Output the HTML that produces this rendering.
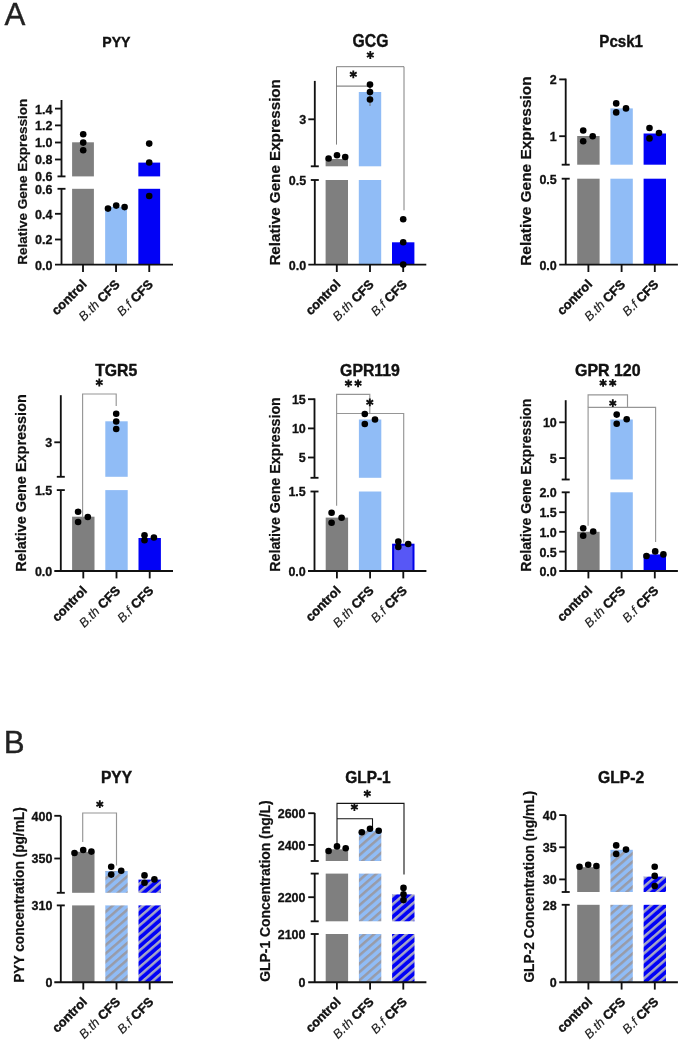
<!DOCTYPE html>
<html><head><meta charset="utf-8"><title>Figure</title>
<style>
html,body{margin:0;padding:0;background:#fff;}
body{width:685px;height:1041px;overflow:hidden;font-family:"Liberation Sans",sans-serif;}
svg{display:block;font-family:"Liberation Sans",sans-serif;will-change:transform;}
.ax{stroke:#111;stroke-width:1.85;stroke-linecap:butt;}
.tk{stroke:#111;stroke-width:1.85;}
.tl{font-size:12.5px;font-weight:bold;fill:#111;stroke:#111;stroke-width:0.3;}
.tt{font-size:15.5px;font-weight:bold;fill:#111;stroke:#111;stroke-width:0.4;}
.yl{font-weight:bold;fill:#111;stroke:#111;stroke-width:0.22;}
.xl{font-size:12.8px;font-weight:bold;fill:#111;stroke:#111;stroke-width:0.4;}
.xl .it{font-weight:normal;font-style:italic;fill:#1a1a1a;stroke:#1a1a1a;stroke-width:0.15;}
.star{font-size:18px;font-weight:bold;fill:#111;}
.big{font-size:31.3px;fill:#222;stroke:#222;stroke-width:0.35;}
</style></head><body>
<svg width="685" height="1041" viewBox="0 0 685 1041">
<defs>
<pattern id="h0" width="6.3" height="6.3" patternUnits="userSpaceOnUse" patternTransform="translate(105.3 918.74) rotate(-41)"><rect width="6.3" height="6.3" fill="#90bcf6"/><rect width="6.3" height="2.5" fill="#989ba8"/></pattern>
<pattern id="h1" width="6.3" height="6.3" patternUnits="userSpaceOnUse" patternTransform="translate(138.5 916.34) rotate(-41)"><rect width="6.3" height="6.3" fill="#0202f6"/><rect width="6.3" height="2.5" fill="#a6a6c6"/></pattern>
<pattern id="h2" width="6.3" height="6.3" patternUnits="userSpaceOnUse" patternTransform="translate(358.9 945.74) rotate(-41)"><rect width="6.3" height="6.3" fill="#90bcf6"/><rect width="6.3" height="2.5" fill="#989ba8"/></pattern>
<pattern id="h3" width="6.3" height="6.3" patternUnits="userSpaceOnUse" patternTransform="translate(392.1 944.84) rotate(-41)"><rect width="6.3" height="6.3" fill="#0202f6"/><rect width="6.3" height="2.5" fill="#a6a6c6"/></pattern>
<pattern id="h4" width="6.3" height="6.3" patternUnits="userSpaceOnUse" patternTransform="translate(610.4 937.74) rotate(-41)"><rect width="6.3" height="6.3" fill="#90bcf6"/><rect width="6.3" height="2.5" fill="#989ba8"/></pattern>
<pattern id="h5" width="6.3" height="6.3" patternUnits="userSpaceOnUse" patternTransform="translate(643.6 935.34) rotate(-41)"><rect width="6.3" height="6.3" fill="#0202f6"/><rect width="6.3" height="2.5" fill="#a6a6c6"/></pattern>
</defs>
<rect width="685" height="1041" fill="#fff"/>
<text x="4.6" y="25.3" class="big">A</text>
<text x="3.8" y="753.3" class="big">B</text>
<g>
<rect x="72.1" y="142.3" width="21.8" height="122.3" fill="#7f7f7f"/>
<rect x="105.15" y="206.8" width="21.8" height="57.8" fill="#90bcf6"/>
<rect x="138.35" y="162.6" width="21.8" height="102" fill="#0202f6"/>
<rect x="63.5" y="176.4" width="111.5" height="12.4" fill="#fff"/>
<line x1="61.5" y1="100" x2="61.5" y2="176.4" class="ax"/>
<line x1="61.5" y1="188.8" x2="61.5" y2="264.6" class="ax"/>
<line x1="57.5" y1="176.4" x2="65.5" y2="176.4" class="tk"/>
<line x1="57.5" y1="188.8" x2="65.5" y2="188.8" class="tk"/>
<line x1="55" y1="264.6" x2="173" y2="264.6" class="ax"/>
<line x1="83" y1="264.6" x2="83" y2="272" class="tk"/>
<line x1="116.05" y1="264.6" x2="116.05" y2="272" class="tk"/>
<line x1="149.25" y1="264.6" x2="149.25" y2="272" class="tk"/>
<line x1="55" y1="108.6" x2="61.5" y2="108.6" class="tk"/>
<text x="52.5" y="113.5" class="tl" text-anchor="end">1.4</text>
<line x1="55" y1="125.4" x2="61.5" y2="125.4" class="tk"/>
<text x="52.5" y="130.3" class="tl" text-anchor="end">1.2</text>
<line x1="55" y1="142.5" x2="61.5" y2="142.5" class="tk"/>
<text x="52.5" y="147.4" class="tl" text-anchor="end">1.0</text>
<line x1="55" y1="159.5" x2="61.5" y2="159.5" class="tk"/>
<text x="52.5" y="164.4" class="tl" text-anchor="end">0.8</text>
<text x="52.5" y="181.3" class="tl" text-anchor="end">0.6</text>
<text x="52.5" y="193.7" class="tl" text-anchor="end">0.6</text>
<line x1="55" y1="213.8" x2="61.5" y2="213.8" class="tk"/>
<text x="52.5" y="218.7" class="tl" text-anchor="end">0.4</text>
<line x1="55" y1="239.5" x2="61.5" y2="239.5" class="tk"/>
<text x="52.5" y="244.4" class="tl" text-anchor="end">0.2</text>
<text x="52.5" y="269.5" class="tl" text-anchor="end">0.0</text>
<circle cx="83.2" cy="134.2" r="3.3" fill="#000"/>
<circle cx="83.2" cy="142.6" r="3.3" fill="#000"/>
<circle cx="83.2" cy="150.3" r="3.3" fill="#000"/>
<circle cx="108" cy="208.6" r="3.3" fill="#000"/>
<circle cx="116.2" cy="205.6" r="3.3" fill="#000"/>
<circle cx="124.6" cy="207.1" r="3.3" fill="#000"/>
<circle cx="149.2" cy="143.6" r="3.3" fill="#000"/>
<circle cx="149.2" cy="162.5" r="3.3" fill="#000"/>
<circle cx="149.2" cy="196" r="3.3" fill="#000"/>
<text transform="translate(102.3 46.9) scale(1.0071 1)" class="tt" style="font-size:14px">PYY</text>
<text transform="translate(26.7 264.8) rotate(-90)" class="yl" style="font-size:13.5px" textLength="166" lengthAdjust="spacingAndGlyphs">Relative Gene Expression</text>
<text transform="translate(87.5 285.1) rotate(-45)" class="xl" text-anchor="end"><tspan>control</tspan></text>
<text transform="translate(120.55 285.1) rotate(-45)" class="xl" text-anchor="end"><tspan class="it">B.th</tspan><tspan> CFS</tspan></text>
<text transform="translate(153.75 285.1) rotate(-45)" class="xl" text-anchor="end"><tspan class="it">B.f</tspan><tspan> CFS</tspan></text>
</g>
<g>
<rect x="325.6" y="159" width="22.4" height="105.6" fill="#7f7f7f"/>
<rect x="358.8" y="92" width="22.4" height="172.6" fill="#90bcf6"/>
<rect x="392" y="242.3" width="22.4" height="22.3" fill="#0202f6"/>
<rect x="316.8" y="166.3" width="111.5" height="13.7" fill="#fff"/>
<path d="M336.5 144.6 V66.7 H404 V210.3" fill="none" stroke="#808080" stroke-width="1.0"/>
<path d="M336.5 86.1 V86.1 H370 V106" fill="none" stroke="#6a6a6a" stroke-width="1.0"/>
<path d="M370.3 51.1L370.3 58.9M366.92 53.05L373.68 56.95M373.68 53.05L366.92 56.95" stroke="#111" stroke-width="1.85" fill="none"/>
<path d="M353.3 70.4L353.3 78.2M349.92 72.35L356.68 76.25M356.68 72.35L349.92 76.25" stroke="#111" stroke-width="1.85" fill="none"/>
<line x1="314.8" y1="80.9" x2="314.8" y2="166.3" class="ax"/>
<line x1="314.8" y1="180" x2="314.8" y2="264.6" class="ax"/>
<line x1="310.8" y1="166.3" x2="318.8" y2="166.3" class="tk"/>
<line x1="310.8" y1="180" x2="318.8" y2="180" class="tk"/>
<line x1="308.3" y1="264.6" x2="426.3" y2="264.6" class="ax"/>
<line x1="336.8" y1="264.6" x2="336.8" y2="272" class="tk"/>
<line x1="370" y1="264.6" x2="370" y2="272" class="tk"/>
<line x1="403.2" y1="264.6" x2="403.2" y2="272" class="tk"/>
<line x1="308.3" y1="119.3" x2="314.8" y2="119.3" class="tk"/>
<text x="306.1" y="124.2" class="tl" text-anchor="end">3</text>
<text x="306.1" y="184.9" class="tl" text-anchor="end">0.5</text>
<text x="306.1" y="269.5" class="tl" text-anchor="end">0.0</text>
<circle cx="328.6" cy="158.5" r="3.3" fill="#000"/>
<circle cx="337" cy="155.3" r="3.3" fill="#000"/>
<circle cx="345.2" cy="157" r="3.3" fill="#000"/>
<circle cx="370" cy="84.6" r="3.3" fill="#000"/>
<circle cx="370" cy="92" r="3.3" fill="#000"/>
<circle cx="370" cy="99.5" r="3.3" fill="#000"/>
<circle cx="403.2" cy="219.2" r="3.3" fill="#000"/>
<circle cx="403.2" cy="242.3" r="3.3" fill="#000"/>
<circle cx="403.2" cy="264.6" r="3.3" fill="#000"/>
<text transform="translate(352.6 46.6) scale(0.8287 1)" class="tt" style="font-size:19px">GCG</text>
<text transform="translate(279.9 265.6) rotate(-90)" class="yl" style="font-size:15px" textLength="186.5" lengthAdjust="spacingAndGlyphs">Relative Gene Expression</text>
<text transform="translate(341.3 285.1) rotate(-45)" class="xl" text-anchor="end"><tspan>control</tspan></text>
<text transform="translate(374.5 285.1) rotate(-45)" class="xl" text-anchor="end"><tspan class="it">B.th</tspan><tspan> CFS</tspan></text>
<text transform="translate(407.7 285.1) rotate(-45)" class="xl" text-anchor="end"><tspan class="it">B.f</tspan><tspan> CFS</tspan></text>
</g>
<g>
<rect x="577.2" y="136" width="22.4" height="128.6" fill="#7f7f7f"/>
<rect x="610.4" y="108.4" width="22.4" height="156.2" fill="#90bcf6"/>
<rect x="643.6" y="133.5" width="22.4" height="131.1" fill="#0202f6"/>
<rect x="567.7" y="164.7" width="112.2" height="14" fill="#fff"/>
<line x1="565.7" y1="78.6" x2="565.7" y2="164.7" class="ax"/>
<line x1="565.7" y1="178.7" x2="565.7" y2="264.6" class="ax"/>
<line x1="561.7" y1="164.7" x2="569.7" y2="164.7" class="tk"/>
<line x1="561.7" y1="178.7" x2="569.7" y2="178.7" class="tk"/>
<line x1="559.2" y1="264.6" x2="677.9" y2="264.6" class="ax"/>
<line x1="588.4" y1="264.6" x2="588.4" y2="272" class="tk"/>
<line x1="621.6" y1="264.6" x2="621.6" y2="272" class="tk"/>
<line x1="654.8" y1="264.6" x2="654.8" y2="272" class="tk"/>
<line x1="559.2" y1="79.4" x2="565.7" y2="79.4" class="tk"/>
<text x="556.8" y="84.3" class="tl" text-anchor="end">2</text>
<line x1="559.2" y1="136.2" x2="565.7" y2="136.2" class="tk"/>
<text x="556.8" y="141.1" class="tl" text-anchor="end">1</text>
<text x="556.8" y="183.6" class="tl" text-anchor="end">0.5</text>
<text x="556.8" y="269.5" class="tl" text-anchor="end">0.0</text>
<circle cx="583.2" cy="130.5" r="3.3" fill="#000"/>
<circle cx="583.2" cy="141.2" r="3.3" fill="#000"/>
<circle cx="592.7" cy="136.2" r="3.3" fill="#000"/>
<circle cx="616.2" cy="103.4" r="3.3" fill="#000"/>
<circle cx="616.2" cy="112.4" r="3.3" fill="#000"/>
<circle cx="626" cy="108.4" r="3.3" fill="#000"/>
<circle cx="649.5" cy="128" r="3.3" fill="#000"/>
<circle cx="649.5" cy="138.4" r="3.3" fill="#000"/>
<circle cx="659" cy="133" r="3.3" fill="#000"/>
<text transform="translate(599.3 46.8) scale(0.8741 1)" class="tt" style="font-size:17.3px">Pcsk1</text>
<text transform="translate(530.7 265.8) rotate(-90)" class="yl" style="font-size:15.2px" textLength="189.4" lengthAdjust="spacingAndGlyphs">Relative Gene Expression</text>
<text transform="translate(592.9 285.1) rotate(-45)" class="xl" text-anchor="end"><tspan>control</tspan></text>
<text transform="translate(626.1 285.1) rotate(-45)" class="xl" text-anchor="end"><tspan class="it">B.th</tspan><tspan> CFS</tspan></text>
<text transform="translate(659.3 285.1) rotate(-45)" class="xl" text-anchor="end"><tspan class="it">B.f</tspan><tspan> CFS</tspan></text>
</g>
<g>
<rect x="72.1" y="516.7" width="22.4" height="54.3" fill="#7f7f7f"/>
<rect x="105.3" y="421.3" width="22.4" height="149.7" fill="#90bcf6"/>
<rect x="138.5" y="538" width="22.4" height="33" fill="#0202f6"/>
<rect x="62.8" y="476.8" width="112.2" height="13.3" fill="#fff"/>
<path d="M82.6 517.5 V394 H116.2 V405.9" fill="none" stroke="#969696" stroke-width="1.15"/>
<path d="M99.3 378.6L99.3 386.4M95.92 380.55L102.68 384.45M102.68 380.55L95.92 384.45" stroke="#111" stroke-width="1.85" fill="none"/>
<line x1="60.8" y1="395.2" x2="60.8" y2="476.8" class="ax"/>
<line x1="60.8" y1="490.1" x2="60.8" y2="571" class="ax"/>
<line x1="56.8" y1="476.8" x2="64.8" y2="476.8" class="tk"/>
<line x1="56.8" y1="490.1" x2="64.8" y2="490.1" class="tk"/>
<line x1="54.3" y1="571" x2="173" y2="571" class="ax"/>
<line x1="83.3" y1="571" x2="83.3" y2="578.4" class="tk"/>
<line x1="116.5" y1="571" x2="116.5" y2="578.4" class="tk"/>
<line x1="149.7" y1="571" x2="149.7" y2="578.4" class="tk"/>
<line x1="54.3" y1="442.3" x2="60.8" y2="442.3" class="tk"/>
<text x="52.3" y="447.2" class="tl" text-anchor="end">3</text>
<text x="52.3" y="495" class="tl" text-anchor="end">1.5</text>
<text x="52.3" y="575.9" class="tl" text-anchor="end">0.0</text>
<circle cx="78.1" cy="511.8" r="3.3" fill="#000"/>
<circle cx="78.1" cy="522" r="3.3" fill="#000"/>
<circle cx="87.8" cy="517" r="3.3" fill="#000"/>
<circle cx="116.2" cy="413.8" r="3.3" fill="#000"/>
<circle cx="116.2" cy="421.5" r="3.3" fill="#000"/>
<circle cx="116.2" cy="429" r="3.3" fill="#000"/>
<circle cx="144.5" cy="535.3" r="3.3" fill="#000"/>
<circle cx="144.5" cy="540.2" r="3.3" fill="#000"/>
<circle cx="153.9" cy="537.5" r="3.3" fill="#000"/>
<text transform="translate(95.2 375.8) scale(0.9873 1)" class="tt" style="font-size:16px">TGR5</text>
<text transform="translate(26.3 571.7) rotate(-90)" class="yl" style="font-size:14.3px" textLength="177.5" lengthAdjust="spacingAndGlyphs">Relative Gene Expression</text>
<text transform="translate(87.8 591.5) rotate(-45)" class="xl" text-anchor="end"><tspan>control</tspan></text>
<text transform="translate(121 591.5) rotate(-45)" class="xl" text-anchor="end"><tspan class="it">B.th</tspan><tspan> CFS</tspan></text>
<text transform="translate(154.2 591.5) rotate(-45)" class="xl" text-anchor="end"><tspan class="it">B.f</tspan><tspan> CFS</tspan></text>
</g>
<g>
<rect x="325.7" y="517.6" width="22.4" height="53.4" fill="#7f7f7f"/>
<rect x="358.9" y="419.5" width="22.4" height="151.5" fill="#90bcf6"/>
<rect x="393.1" y="544.7" width="20.4" height="26.3" fill="#5757f6" stroke="#0202e8" stroke-width="2.0"/>
<rect x="316.5" y="477.8" width="111.9" height="13.7" fill="#fff"/>
<path d="M336.6 413.5 V394.4 H369.8 V413.5" fill="none" stroke="#969696" stroke-width="1.15"/>
<path d="M336.6 505.8 V413.5 H403.7 V542.6" fill="none" stroke="#969696" stroke-width="1.15"/>
<path d="M348.45 379.4L348.45 387.2M345.07 381.35L351.83 385.25M351.83 381.35L345.07 385.25" stroke="#111" stroke-width="1.85" fill="none"/>
<path d="M358.05 379.4L358.05 387.2M354.67 381.35L361.43 385.25M361.43 381.35L354.67 385.25" stroke="#111" stroke-width="1.85" fill="none"/>
<path d="M369.8 398.4L369.8 406.2M366.42 400.35L373.18 404.25M373.18 400.35L366.42 404.25" stroke="#111" stroke-width="1.85" fill="none"/>
<line x1="314.5" y1="398.4" x2="314.5" y2="477.8" class="ax"/>
<line x1="314.5" y1="491.5" x2="314.5" y2="571" class="ax"/>
<line x1="310.5" y1="477.8" x2="318.5" y2="477.8" class="tk"/>
<line x1="310.5" y1="491.5" x2="318.5" y2="491.5" class="tk"/>
<line x1="308" y1="571" x2="426.4" y2="571" class="ax"/>
<line x1="336.9" y1="571" x2="336.9" y2="578.4" class="tk"/>
<line x1="370.1" y1="571" x2="370.1" y2="578.4" class="tk"/>
<line x1="403.3" y1="571" x2="403.3" y2="578.4" class="tk"/>
<line x1="308" y1="399.2" x2="314.5" y2="399.2" class="tk"/>
<text x="305.8" y="404.1" class="tl" text-anchor="end">15</text>
<line x1="308" y1="428.4" x2="314.5" y2="428.4" class="tk"/>
<text x="305.8" y="433.3" class="tl" text-anchor="end">10</text>
<line x1="308" y1="457.5" x2="314.5" y2="457.5" class="tk"/>
<text x="305.8" y="462.4" class="tl" text-anchor="end">5</text>
<text x="305.8" y="496.4" class="tl" text-anchor="end">1.5</text>
<text x="305.8" y="575.9" class="tl" text-anchor="end">0.0</text>
<circle cx="331.6" cy="512.8" r="3.3" fill="#000"/>
<circle cx="331.6" cy="522.8" r="3.3" fill="#000"/>
<circle cx="341.6" cy="517.8" r="3.3" fill="#000"/>
<circle cx="364.8" cy="414" r="3.3" fill="#000"/>
<circle cx="364.8" cy="424" r="3.3" fill="#000"/>
<circle cx="375" cy="419.5" r="3.3" fill="#000"/>
<circle cx="398.3" cy="541.5" r="3.3" fill="#000"/>
<circle cx="398.3" cy="547" r="3.3" fill="#000"/>
<circle cx="408.2" cy="544" r="3.3" fill="#000"/>
<text transform="translate(340.1 375.9) scale(0.9888 1)" class="tt" style="font-size:16px">GPR119</text>
<text transform="translate(279.8 571.7) rotate(-90)" class="yl" style="font-size:14.1px" textLength="174.5" lengthAdjust="spacingAndGlyphs">Relative Gene Expression</text>
<text transform="translate(341.4 591.5) rotate(-45)" class="xl" text-anchor="end"><tspan>control</tspan></text>
<text transform="translate(374.6 591.5) rotate(-45)" class="xl" text-anchor="end"><tspan class="it">B.th</tspan><tspan> CFS</tspan></text>
<text transform="translate(407.8 591.5) rotate(-45)" class="xl" text-anchor="end"><tspan class="it">B.f</tspan><tspan> CFS</tspan></text>
</g>
<g>
<rect x="577.2" y="531.8" width="22.4" height="39.2" fill="#7f7f7f"/>
<rect x="610.4" y="419.5" width="22.4" height="151.5" fill="#90bcf6"/>
<rect x="643.6" y="554.4" width="22.4" height="16.6" fill="#0202f6"/>
<rect x="567.7" y="479.5" width="112.2" height="12.8" fill="#fff"/>
<path d="M588.1 407.3 V394.8 H627.5 V407.3" fill="none" stroke="#969696" stroke-width="1.15"/>
<path d="M588.1 525.8 V407.3 H655.6 V542" fill="none" stroke="#969696" stroke-width="1.15"/>
<path d="M603.1 379L603.1 386.8M599.72 380.95L606.48 384.85M606.48 380.95L599.72 384.85" stroke="#111" stroke-width="1.85" fill="none"/>
<path d="M612.7 379L612.7 386.8M609.32 380.95L616.08 384.85M616.08 380.95L609.32 384.85" stroke="#111" stroke-width="1.85" fill="none"/>
<path d="M612.8 399.3L612.8 407.1M609.42 401.25L616.18 405.15M616.18 401.25L609.42 405.15" stroke="#111" stroke-width="1.85" fill="none"/>
<line x1="565.7" y1="400.2" x2="565.7" y2="479.5" class="ax"/>
<line x1="565.7" y1="492.3" x2="565.7" y2="571" class="ax"/>
<line x1="561.7" y1="479.5" x2="569.7" y2="479.5" class="tk"/>
<line x1="561.7" y1="492.3" x2="569.7" y2="492.3" class="tk"/>
<line x1="559.2" y1="571" x2="677.9" y2="571" class="ax"/>
<line x1="588.4" y1="571" x2="588.4" y2="578.4" class="tk"/>
<line x1="621.6" y1="571" x2="621.6" y2="578.4" class="tk"/>
<line x1="654.8" y1="571" x2="654.8" y2="578.4" class="tk"/>
<line x1="559.2" y1="422.3" x2="565.7" y2="422.3" class="tk"/>
<text x="556.8" y="427.2" class="tl" text-anchor="end">10</text>
<line x1="559.2" y1="458.1" x2="565.7" y2="458.1" class="tk"/>
<text x="556.8" y="463" class="tl" text-anchor="end">5</text>
<text x="556.8" y="497.2" class="tl" text-anchor="end">2.0</text>
<line x1="559.2" y1="512.2" x2="565.7" y2="512.2" class="tk"/>
<text x="556.8" y="517.1" class="tl" text-anchor="end">1.5</text>
<line x1="559.2" y1="531.8" x2="565.7" y2="531.8" class="tk"/>
<text x="556.8" y="536.7" class="tl" text-anchor="end">1.0</text>
<line x1="559.2" y1="551.6" x2="565.7" y2="551.6" class="tk"/>
<text x="556.8" y="556.5" class="tl" text-anchor="end">0.5</text>
<text x="556.8" y="575.9" class="tl" text-anchor="end">0.0</text>
<circle cx="583.2" cy="528.3" r="3.3" fill="#000"/>
<circle cx="583.2" cy="535.8" r="3.3" fill="#000"/>
<circle cx="593.2" cy="531.5" r="3.3" fill="#000"/>
<circle cx="616.7" cy="414.6" r="3.3" fill="#000"/>
<circle cx="616.7" cy="423.7" r="3.3" fill="#000"/>
<circle cx="626.7" cy="419.3" r="3.3" fill="#000"/>
<circle cx="646.5" cy="556" r="3.3" fill="#000"/>
<circle cx="655.2" cy="551.4" r="3.3" fill="#000"/>
<circle cx="663.4" cy="554.4" r="3.3" fill="#000"/>
<text transform="translate(575 375.9) scale(0.9979 1)" class="tt" style="font-size:16px">GPR 120</text>
<text transform="translate(530.7 571.7) rotate(-90)" class="yl" style="font-size:14px" textLength="173" lengthAdjust="spacingAndGlyphs">Relative Gene Expression</text>
<text transform="translate(592.9 591.5) rotate(-45)" class="xl" text-anchor="end"><tspan>control</tspan></text>
<text transform="translate(626.1 591.5) rotate(-45)" class="xl" text-anchor="end"><tspan class="it">B.th</tspan><tspan> CFS</tspan></text>
<text transform="translate(659.3 591.5) rotate(-45)" class="xl" text-anchor="end"><tspan class="it">B.f</tspan><tspan> CFS</tspan></text>
</g>
<g>
<rect x="72.1" y="851.8" width="22.4" height="130.4" fill="#7f7f7f"/>
<rect x="105.3" y="871" width="22.4" height="111.2" fill="url(#h0)"/>
<rect x="138.5" y="879.6" width="22.4" height="102.6" fill="url(#h1)"/>
<rect x="62.8" y="892.8" width="112.2" height="12.6" fill="#fff"/>
<path d="M82.7 841.9 V813 H116.5 V865.5" fill="none" stroke="#969696" stroke-width="1.15"/>
<path d="M99.8 800.3L99.8 808.1M96.42 802.25L103.18 806.15M103.18 802.25L96.42 806.15" stroke="#111" stroke-width="1.85" fill="none"/>
<line x1="60.8" y1="815.8" x2="60.8" y2="892.8" class="ax"/>
<line x1="60.8" y1="905.4" x2="60.8" y2="982.2" class="ax"/>
<line x1="56.8" y1="892.8" x2="64.8" y2="892.8" class="tk"/>
<line x1="56.8" y1="905.4" x2="64.8" y2="905.4" class="tk"/>
<line x1="54.3" y1="982.2" x2="173" y2="982.2" class="ax"/>
<line x1="83.3" y1="982.2" x2="83.3" y2="989.6" class="tk"/>
<line x1="116.5" y1="982.2" x2="116.5" y2="989.6" class="tk"/>
<line x1="149.7" y1="982.2" x2="149.7" y2="989.6" class="tk"/>
<line x1="54.3" y1="815.8" x2="60.8" y2="815.8" class="tk"/>
<text x="52.4" y="820.7" class="tl" text-anchor="end">400</text>
<line x1="54.3" y1="858.5" x2="60.8" y2="858.5" class="tk"/>
<text x="52.4" y="863.4" class="tl" text-anchor="end">350</text>
<text x="52.4" y="910.3" class="tl" text-anchor="end">310</text>
<text x="52.4" y="987.1" class="tl" text-anchor="end">0</text>
<circle cx="74.5" cy="853" r="3.3" fill="#000"/>
<circle cx="83.2" cy="850" r="3.3" fill="#000"/>
<circle cx="91.4" cy="851.6" r="3.3" fill="#000"/>
<circle cx="111.2" cy="866.7" r="3.3" fill="#000"/>
<circle cx="111.2" cy="874.6" r="3.3" fill="#000"/>
<circle cx="121.2" cy="870.7" r="3.3" fill="#000"/>
<circle cx="144.5" cy="875.4" r="3.3" fill="#000"/>
<circle cx="144.5" cy="882.8" r="3.3" fill="#000"/>
<circle cx="154.4" cy="879.4" r="3.3" fill="#000"/>
<text transform="translate(101 782.8) scale(0.9936 1)" class="tt" style="font-size:15.6px">PYY</text>
<text transform="translate(24.4 982.8) rotate(-90)" class="yl" style="font-size:14px" textLength="175.6" lengthAdjust="spacingAndGlyphs">PYY concentration (pg/mL)</text>
<text transform="translate(87.8 1002.7) rotate(-45)" class="xl" text-anchor="end"><tspan>control</tspan></text>
<text transform="translate(121 1002.7) rotate(-45)" class="xl" text-anchor="end"><tspan class="it">B.th</tspan><tspan> CFS</tspan></text>
<text transform="translate(154.2 1002.7) rotate(-45)" class="xl" text-anchor="end"><tspan class="it">B.f</tspan><tspan> CFS</tspan></text>
</g>
<g>
<rect x="325.7" y="849.3" width="22.4" height="132.9" fill="#7f7f7f"/>
<rect x="358.9" y="830.7" width="22.4" height="151.5" fill="url(#h2)"/>
<rect x="392.1" y="894.4" width="22.4" height="87.8" fill="url(#h3)"/>
<rect x="316.7" y="861" width="111.7" height="12.6" fill="#fff"/>
<rect x="316.7" y="921.3" width="111.7" height="12.7" fill="#fff"/>
<path d="M337 844.4 V803.4 H404 V874.6" fill="none" stroke="#151515" stroke-width="1.1"/>
<path d="M337 818.8 V818.8 H372.5 V827" fill="none" stroke="#151515" stroke-width="1.1"/>
<path d="M367.3 789.7L367.3 797.5M363.92 791.65L370.68 795.55M370.68 791.65L363.92 795.55" stroke="#111" stroke-width="1.85" fill="none"/>
<path d="M354.4 803.2L354.4 811M351.02 805.15L357.78 809.05M357.78 805.15L351.02 809.05" stroke="#111" stroke-width="1.85" fill="none"/>
<line x1="314.7" y1="812.9" x2="314.7" y2="861" class="ax"/>
<line x1="314.7" y1="873.6" x2="314.7" y2="921.3" class="ax"/>
<line x1="314.7" y1="934" x2="314.7" y2="982.2" class="ax"/>
<line x1="310.7" y1="861" x2="318.7" y2="861" class="tk"/>
<line x1="310.7" y1="873.6" x2="318.7" y2="873.6" class="tk"/>
<line x1="310.7" y1="921.3" x2="318.7" y2="921.3" class="tk"/>
<line x1="310.7" y1="934" x2="318.7" y2="934" class="tk"/>
<line x1="308.2" y1="982.2" x2="426.4" y2="982.2" class="ax"/>
<line x1="336.9" y1="982.2" x2="336.9" y2="989.6" class="tk"/>
<line x1="370.1" y1="982.2" x2="370.1" y2="989.6" class="tk"/>
<line x1="403.3" y1="982.2" x2="403.3" y2="989.6" class="tk"/>
<line x1="308.2" y1="813.2" x2="314.7" y2="813.2" class="tk"/>
<text x="305.5" y="818.1" class="tl" text-anchor="end">2600</text>
<line x1="308.2" y1="844.9" x2="314.7" y2="844.9" class="tk"/>
<text x="305.5" y="849.8" class="tl" text-anchor="end">2400</text>
<line x1="308.2" y1="897.2" x2="314.7" y2="897.2" class="tk"/>
<text x="305.5" y="902.1" class="tl" text-anchor="end">2200</text>
<text x="305.5" y="938.9" class="tl" text-anchor="end">2100</text>
<text x="305.5" y="987.1" class="tl" text-anchor="end">0</text>
<circle cx="328.6" cy="851" r="3.3" fill="#000"/>
<circle cx="337" cy="846.4" r="3.3" fill="#000"/>
<circle cx="345.7" cy="848.3" r="3.3" fill="#000"/>
<circle cx="361.8" cy="832.2" r="3.3" fill="#000"/>
<circle cx="370" cy="828.7" r="3.3" fill="#000"/>
<circle cx="378.7" cy="830.7" r="3.3" fill="#000"/>
<circle cx="403.5" cy="887.9" r="3.3" fill="#000"/>
<circle cx="403.5" cy="894.3" r="3.3" fill="#000"/>
<circle cx="403.5" cy="900.1" r="3.3" fill="#000"/>
<text transform="translate(345.2 782.6) scale(0.9656 1)" class="tt" style="font-size:16px">GLP-1</text>
<text transform="translate(269.8 981.8) rotate(-90)" class="yl" style="font-size:14px" textLength="181.5" lengthAdjust="spacingAndGlyphs">GLP-1 Concentration (ng/L)</text>
<text transform="translate(341.4 1002.7) rotate(-45)" class="xl" text-anchor="end"><tspan>control</tspan></text>
<text transform="translate(374.6 1002.7) rotate(-45)" class="xl" text-anchor="end"><tspan class="it">B.th</tspan><tspan> CFS</tspan></text>
<text transform="translate(407.8 1002.7) rotate(-45)" class="xl" text-anchor="end"><tspan class="it">B.f</tspan><tspan> CFS</tspan></text>
</g>
<g>
<rect x="577.2" y="867.2" width="22.4" height="115" fill="#7f7f7f"/>
<rect x="610.4" y="849.8" width="22.4" height="132.4" fill="url(#h4)"/>
<rect x="643.6" y="876.6" width="22.4" height="105.6" fill="url(#h5)"/>
<rect x="567.7" y="892" width="112.2" height="12.8" fill="#fff"/>
<line x1="565.7" y1="815.1" x2="565.7" y2="892" class="ax"/>
<line x1="565.7" y1="904.8" x2="565.7" y2="982.2" class="ax"/>
<line x1="561.7" y1="892" x2="569.7" y2="892" class="tk"/>
<line x1="561.7" y1="904.8" x2="569.7" y2="904.8" class="tk"/>
<line x1="559.2" y1="982.2" x2="677.9" y2="982.2" class="ax"/>
<line x1="588.4" y1="982.2" x2="588.4" y2="989.6" class="tk"/>
<line x1="621.6" y1="982.2" x2="621.6" y2="989.6" class="tk"/>
<line x1="654.8" y1="982.2" x2="654.8" y2="989.6" class="tk"/>
<line x1="559.2" y1="815.1" x2="565.7" y2="815.1" class="tk"/>
<text x="556.6" y="820" class="tl" text-anchor="end">40</text>
<line x1="559.2" y1="847.3" x2="565.7" y2="847.3" class="tk"/>
<text x="556.6" y="852.2" class="tl" text-anchor="end">35</text>
<line x1="559.2" y1="879.4" x2="565.7" y2="879.4" class="tk"/>
<text x="556.6" y="884.3" class="tl" text-anchor="end">30</text>
<text x="556.6" y="909.7" class="tl" text-anchor="end">28</text>
<text x="556.6" y="987.1" class="tl" text-anchor="end">0</text>
<circle cx="579.5" cy="866.7" r="3.3" fill="#000"/>
<circle cx="588.2" cy="864.7" r="3.3" fill="#000"/>
<circle cx="596.4" cy="866" r="3.3" fill="#000"/>
<circle cx="616.2" cy="845.4" r="3.3" fill="#000"/>
<circle cx="616.2" cy="854" r="3.3" fill="#000"/>
<circle cx="626" cy="849.6" r="3.3" fill="#000"/>
<circle cx="654.7" cy="866.7" r="3.3" fill="#000"/>
<circle cx="654.7" cy="875.9" r="3.3" fill="#000"/>
<circle cx="654.7" cy="886" r="3.3" fill="#000"/>
<text transform="translate(598.1 782.8) scale(0.9805 1)" class="tt" style="font-size:16px">GLP-2</text>
<text transform="translate(534.3 982.6) rotate(-90)" class="yl" style="font-size:14px" textLength="191.8" lengthAdjust="spacingAndGlyphs">GLP-2 Concentration (ng/mL)</text>
<text transform="translate(592.9 1002.7) rotate(-45)" class="xl" text-anchor="end"><tspan>control</tspan></text>
<text transform="translate(626.1 1002.7) rotate(-45)" class="xl" text-anchor="end"><tspan class="it">B.th</tspan><tspan> CFS</tspan></text>
<text transform="translate(659.3 1002.7) rotate(-45)" class="xl" text-anchor="end"><tspan class="it">B.f</tspan><tspan> CFS</tspan></text>
</g>
</svg>
</body></html>
